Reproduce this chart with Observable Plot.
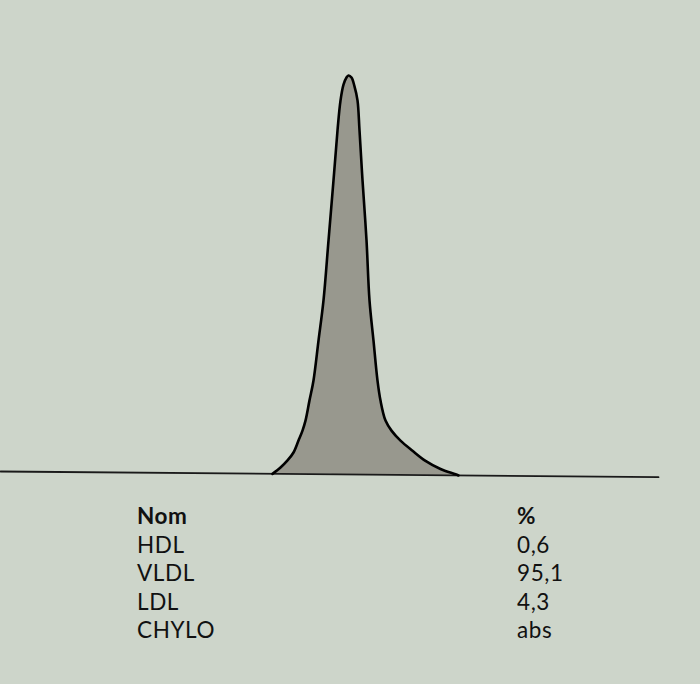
<!DOCTYPE html>
<html>
<head>
<meta charset="utf-8">
<script src="https://cdn.jsdelivr.net/npm/d3@7"></script>
<script src="https://cdn.jsdelivr.net/npm/@observablehq/plot@0.6"></script>
<style>
  html, body { margin: 0; padding: 0; background: #cdd5ca; }
  #wrap { position: relative; width: 700px; height: 684px; background: #cdd5ca; overflow: hidden; }
  #chart { position: absolute; left: 0; top: 0; }
  #table { position: absolute; left: 0; top: 502px; width: 700px; font-family: Lato, "Open Sans", sans-serif; font-size: 22.5px; letter-spacing: 0.6px; color: #111; }
  .row { position: absolute; left: 0; height: 28px; line-height: 28px; width: 700px; }
  .row .n { position: absolute; left: 137px; }
  .row .v { position: absolute; left: 517px; }
  .head { font-weight: bold; }
</style>
</head>
<body>
<div id="wrap">
  <div id="chart"></div>
  <div id="table"></div>
</div>
<script>
// Densitogram trace: migration position vs relative intensity (peak = 100)
const migration = [272, 280, 287, 293, 298, 302, 305, 309, 313, 318, 323, 328, 333, 337, 340, 343, 346, 348, 351, 354, 357, 359, 362, 366, 369, 373, 377, 380, 385, 391, 400, 412, 425, 440, 455, 458];
const intensity = [0, 1.6, 3.4, 5.4, 8.4, 10.9, 13.4, 18.5, 23.5, 33.5, 43.6, 58.6, 73.7, 86.2, 93.7, 97.7, 99.5, 100, 99.5, 97.3, 93.8, 86.3, 73.8, 58.8, 43.7, 33.6, 23.6, 18.6, 13.6, 11.1, 8.6, 6.1, 3.6, 1.6, 0.3, 0];

// Baseline endpoints
const baseX = [0, 658];
const baseY = [0.75, -0.68];

// Table
const headers = ["Nom", "%"];
const fractions = ["HDL", "VLDL", "LDL", "CHYLO"];
const percents = ["0,6", "95,1", "4,3", "abs"];

const baseAt = d3.scaleLinear().domain(baseX).range(baseY);
const trace = migration.map((x, i) => ({x, y: baseAt(x) + intensity[i], b: baseAt(x)}));
const baseline = baseX.map((x, i) => ({x, y: baseY[i]}));

const chart = Plot.plot({
  width: 700,
  height: 490,
  margin: 0,
  style: {background: "transparent"},
  x: {domain: [0, 700], range: [0, 700], axis: null},
  y: {domain: [0, 100], range: [474, 75], axis: null},
  marks: [
    Plot.areaY(trace, {x: "x", y1: "b", y2: "y", fill: "#98988e", curve: "catmull-rom"}),
    Plot.line(baseline, {x: "x", y: "y", stroke: "#1a1a1a", strokeWidth: 1.8}),
    Plot.line(trace, {x: "x", y: "y", stroke: "#000", strokeWidth: 2.6, curve: "catmull-rom"})
  ]
});
document.getElementById("chart").appendChild(chart);

const table = document.getElementById("table");
const rows = [[headers[0], headers[1], true], ...fractions.map((f, i) => [f, percents[i], false])];
rows.forEach(([n, v, h], i) => {
  const r = document.createElement("div");
  r.className = "row" + (h ? " head" : "");
  r.style.top = (i * 28.6) + "px";
  r.innerHTML = `<span class="n"></span><span class="v"></span>`;
  r.querySelector(".n").textContent = n;
  r.querySelector(".v").textContent = v;
  table.appendChild(r);
});
</script>
</body>
</html>
